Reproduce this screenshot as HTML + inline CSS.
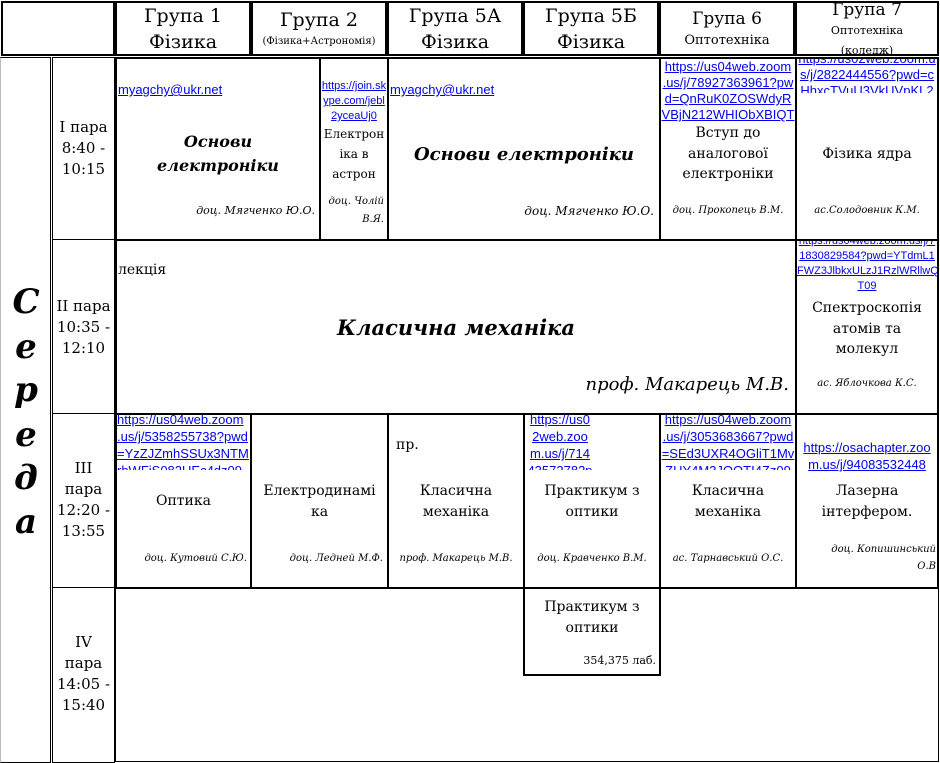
<!DOCTYPE html>
<html><head><meta charset="utf-8"><style>
*{margin:0;padding:0;box-sizing:border-box}
body{width:940px;height:763px;background:#fff;position:relative;overflow:hidden;font-family:"DejaVu Serif","Liberation Serif",serif;color:#000}
.b{position:absolute;border:2px solid #000}
.b1{position:absolute;border:1px solid #000}
.t{position:absolute;white-space:nowrap;line-height:20px}
.c{text-align:center}
.r{text-align:right}
.i{font-style:italic}
.bi{font-weight:bold;font-style:italic}
.k{position:absolute;overflow:hidden;font-family:"Liberation Sans",Arial,sans-serif;color:#00e;text-decoration:underline;font-size:13px;line-height:16px;text-align:center;white-space:nowrap}
.k div{text-decoration:underline}
</style></head><body>
<div class="b" style="left:1px;top:1px;width:114px;height:55px"></div>
<div class="b" style="left:115px;top:1px;width:136px;height:55px"></div>
<div class="b" style="left:251px;top:1px;width:136px;height:55px"></div>
<div class="b" style="left:387px;top:1px;width:136px;height:55px"></div>
<div class="b" style="left:523px;top:1px;width:136px;height:55px"></div>
<div class="b" style="left:659px;top:1px;width:136px;height:55px"></div>
<div class="b" style="left:795px;top:1px;width:144px;height:55px"></div>

<div class="t c" style="left:116px;width:134px;top:5px;font-size:19px;line-height:22px">Група 1</div>
<div class="t c" style="left:116px;width:134px;top:31px;font-size:19px;line-height:22px">Фізика</div>
<div class="t c" style="left:252px;width:134px;top:9px;font-size:19px;line-height:22px">Група 2</div>
<div class="t c" style="left:252px;width:134px;top:35px;font-size:10px;line-height:14px">(Фізика+Астрономія)</div>
<div class="t c" style="left:388px;width:134px;top:5px;font-size:19px;line-height:22px">Група 5А</div>
<div class="t c" style="left:388px;width:134px;top:31px;font-size:19px;line-height:22px">Фізика</div>
<div class="t c" style="left:524px;width:134px;top:5px;font-size:19px;line-height:22px">Група 5Б</div>
<div class="t c" style="left:524px;width:134px;top:31px;font-size:19px;line-height:22px">Фізика</div>
<div class="t c" style="left:660px;width:134px;top:8px;font-size:17px;line-height:22px">Група 6</div>
<div class="t c" style="left:660px;width:134px;top:32px;font-size:13px;line-height:18px">Оптотехніка</div>
<div class="t c" style="left:796px;width:142px;top:0px;font-size:17px;line-height:20px">Група 7</div>
<div style="position:absolute;left:796px;top:2px;width:142px;height:52px;overflow:hidden">
<div class="t c" style="left:0;width:142px;top:21px;font-size:11px;line-height:16px">Оптотехніка</div>
<div class="t c" style="left:0;width:142px;top:41px;font-size:11px;line-height:16px">(коледж)</div>
</div>

<div class="b1" style="left:0;top:57px;width:51px;height:706px;border-left-color:#bbb"></div>
<div class="b1" style="left:52px;top:57px;width:63px;height:706px"></div>
<div class="b1" style="left:52px;top:239px;width:63px;height:1px;border-width:1px 0 0 0"></div>
<div class="b1" style="left:52px;top:413px;width:63px;height:1px;border-width:1px 0 0 0"></div>
<div class="b1" style="left:52px;top:587px;width:63px;height:1px;border-width:1px 0 0 0"></div>
<div class="b1" style="left:115px;top:57px;width:824px;height:705px"></div>

<div class="t c bi" style="left:2px;width:48px;top:280px;font-size:34px;line-height:44px">С</div>
<div class="t c bi" style="left:2px;width:48px;top:325px;font-size:34px;line-height:44px">е</div>
<div class="t c bi" style="left:2px;width:48px;top:368px;font-size:34px;line-height:44px">р</div>
<div class="t c bi" style="left:2px;width:48px;top:413px;font-size:34px;line-height:44px">е</div>
<div class="t c bi" style="left:2px;width:48px;top:456px;font-size:34px;line-height:44px">д</div>
<div class="t c bi" style="left:2px;width:48px;top:500px;font-size:34px;line-height:44px">а</div>

<div class="t c" style="left:53px;width:61px;top:117px;font-size:15px;line-height:21px">I пара<br>8:40 -<br>10:15</div>
<div class="t c" style="left:53px;width:61px;top:296px;font-size:15px;line-height:21px">II пара<br>10:35 -<br>12:10</div>
<div class="t c" style="left:53px;width:61px;top:458px;font-size:15px;line-height:21px">III<br>пара<br>12:20 -<br>13:55</div>
<div class="t c" style="left:53px;width:61px;top:632px;font-size:15px;line-height:21px">IV<br>пара<br>14:05 -<br>15:40</div>

<div class="b" style="left:115px;top:57px;width:206px;height:184px"></div>
<div class="b" style="left:319px;top:57px;width:70px;height:184px"></div>
<div class="b" style="left:387px;top:57px;width:274px;height:184px"></div>
<div class="b" style="left:659px;top:57px;width:138px;height:184px"></div>
<div class="b" style="left:795px;top:57px;width:144px;height:184px"></div>

<div class="k" style="left:118px;top:82px;width:130px;text-align:left">myagchy@ukr.net</div>
<div class="t c bi" style="left:117px;width:202px;top:130px;font-size:16px;line-height:24px">Основи<br>електроніки</div>
<div class="t r i" style="left:117px;width:198px;top:202px;font-size:11px;line-height:18px">доц. Мягченко Ю.О.</div>

<div class="k" style="left:321px;top:79px;width:66px;font-size:11px;line-height:15px">https://join.sk<br>ype.com/jebl<br>2yceaUj0</div>
<div class="t c" style="left:321px;width:66px;top:124px;font-size:12px;line-height:20px">Електрон<br>іка в<br>астрон</div>
<div class="t r i" style="left:321px;width:63px;top:193px;font-size:10px;line-height:18px">доц. Чолій<br>В.Я.</div>

<div class="k" style="left:390px;top:82px;width:130px;text-align:left">myagchy@ukr.net</div>
<div class="t c bi" style="left:389px;width:270px;top:143px;font-size:18px;line-height:24px">Основи електроніки</div>
<div class="t r i" style="left:389px;width:265px;top:202px;font-size:12px;line-height:18px">доц. Мягченко Ю.О.</div>

<div class="k" style="left:661px;top:59px;width:134px;height:63px;font-size:13px">https://us04web.zoom<br>.us/j/78927363961?pw<br>d=QnRuK0ZOSWdyR<br>VBjN212WHIObXBIQT</div>
<div class="t c" style="left:661px;width:134px;top:123px;font-size:14px;line-height:20.5px">Вступ до<br>аналогової<br>електроніки</div>
<div class="t c i" style="left:661px;width:134px;top:202px;font-size:10px;line-height:18px">доц. Прокопець В.М.</div>

<div class="k" style="left:797px;top:59px;width:140px;height:34px;font-size:13px"><div style="margin-top:-8px">https://us02web.zoom.u<br>s/j/2822444556?pwd=c<br>HhxcTVuU3VkUVpKL2</div></div>
<div class="t c" style="left:797px;width:140px;top:144px;font-size:14px;line-height:20px">Фізика ядра</div>
<div class="t c i" style="left:797px;width:140px;top:202px;font-size:10px;line-height:18px">ас.Солодовник К.М.</div>

<div class="b" style="left:115px;top:239px;width:682px;height:176px"></div>
<div class="b" style="left:795px;top:239px;width:144px;height:176px"></div>
<div class="t" style="left:118px;top:260px;font-size:14px">лекція</div>
<div class="t c bi" style="left:117px;width:678px;top:314px;font-size:21px;line-height:28px">Класична механіка</div>
<div class="t r i" style="left:117px;width:672px;top:373px;font-size:18px;line-height:24px">проф. Макарець М.В.</div>

<div class="k" style="left:797px;top:241px;width:140px;height:56px;font-size:11px;line-height:15px"><div style="margin-top:-7px">https://us04web.zoom.us/j/7<br>1830829584?pwd=YTdmL1<br>FWZ3JlbkxULzJ1RzlWRllwQ<br>T09</div></div>
<div class="t c" style="left:797px;width:140px;top:298px;font-size:14px;line-height:20.5px">Спектроскопія<br>атомів та<br>молекул</div>
<div class="t c i" style="left:797px;width:140px;top:375px;font-size:10px;line-height:18px">ас. Яблочкова К.С.</div>

<div class="b" style="left:115px;top:413px;width:137px;height:176px"></div>
<div class="b" style="left:250px;top:413px;width:139px;height:176px"></div>
<div class="b" style="left:387px;top:413px;width:138px;height:176px"></div>
<div class="b" style="left:523px;top:413px;width:138px;height:176px"></div>
<div class="b" style="left:659px;top:413px;width:138px;height:176px"></div>
<div class="b" style="left:795px;top:413px;width:144px;height:176px"></div>

<div class="k" style="left:117px;top:414px;width:133px;height:56px;font-size:13px;line-height:17px;text-align:left"><div style="margin-top:-3px">https://us04web.zoom<br>.us/j/5358255738?pwd<br>=YzZJZmhSSUx3NTM<br>rbWFjS082UEc4dz09</div></div>
<div class="t c" style="left:117px;width:133px;top:491px;font-size:14px">Оптика</div>
<div class="t r i" style="left:117px;width:130px;top:550px;font-size:10px;line-height:18px">доц. Кутовий С.Ю.</div>

<div class="t c" style="left:252px;width:135px;top:481px;font-size:14px;line-height:21px">Електродинамі<br>ка</div>
<div class="t r i" style="left:252px;width:131px;top:550px;font-size:10px;line-height:18px">доц. Ледней М.Ф.</div>

<div class="t" style="left:396px;top:435px;font-size:14px">пр.</div>
<div class="t c" style="left:389px;width:134px;top:481px;font-size:14px;line-height:21px">Класична<br>механіка</div>
<div class="t c i" style="left:389px;width:134px;top:550px;font-size:10px;line-height:18px">проф. Макарець М.В.</div>

<div class="k" style="left:525px;top:414px;width:70px;height:56px;font-size:13px;line-height:17px"><div style="margin-top:-3px">https://us0<br>2web.zoo<br>m.us/j/714<br>43572782p</div></div>
<div class="t c" style="left:525px;width:134px;top:481px;font-size:14px;line-height:21px">Практикум з<br>оптики</div>
<div class="t c i" style="left:525px;width:134px;top:550px;font-size:10px;line-height:18px">доц. Кравченко В.М.</div>

<div class="k" style="left:661px;top:414px;width:134px;height:56px;font-size:13px;line-height:17px"><div style="margin-top:-3px">https://us04web.zoom<br>.us/j/3053683667?pwd<br>=SEd3UXR4OGliT1Mv<br>ZHY4M3JOOTI4Zz09</div></div>
<div class="t c" style="left:661px;width:134px;top:481px;font-size:14px;line-height:21px">Класична<br>механіка</div>
<div class="t c i" style="left:661px;width:134px;top:550px;font-size:10px;line-height:18px">ас. Тарнавський О.С.</div>

<div class="k" style="left:797px;top:439px;width:140px;height:34px;font-size:13px;line-height:17px">https://osachapter.zoo<br>m.us/j/94083532448</div>
<div class="t c" style="left:797px;width:140px;top:481px;font-size:14px;line-height:21px">Лазерна<br>інтерфером.</div>
<div class="t r i" style="left:797px;width:139px;top:541px;font-size:10px;line-height:17px">доц. Копишинський<br>О.В</div>

<div class="b" style="left:523px;top:587px;width:138px;height:89px"></div>
<div class="t c" style="left:525px;width:134px;top:597px;font-size:14px;line-height:21px">Практикум з<br>оптики</div>
<div class="t r" style="left:525px;width:131px;top:652px;font-size:11px;line-height:18px">354,375 лаб.</div>
</body></html>
